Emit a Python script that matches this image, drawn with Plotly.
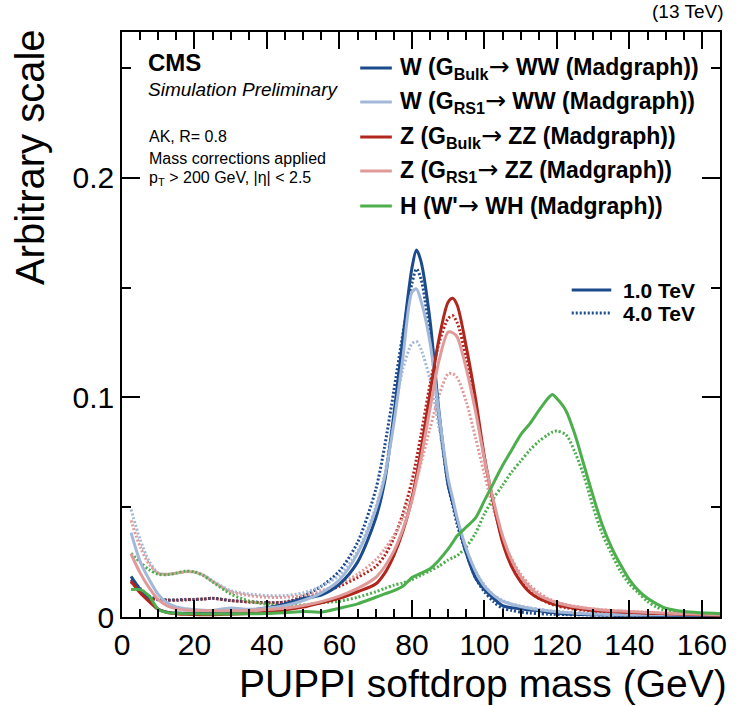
import plotly.graph_objects as go

# Softdrop mass grid (GeV)
mass = [2.5, 5, 7.5, 10, 12.5, 15, 17.5, 20, 22.5, 25, 30, 35, 40, 45, 50, 55,
        60, 65, 70, 72.5, 75, 77.5, 80, 81.25, 82.5, 85, 87.5, 90, 91.25, 92.5, 95, 97.5,
        100, 102.5, 105, 107.5, 110, 112.5, 115, 117.5, 118.75, 120, 122.5, 125,
        127.5, 130, 132.5, 135, 137.5, 140, 142.5, 145, 147.5, 150, 155, 160, 165]

# W from G_Bulk -> WW
w_bulk_1tev = [0.0185, 0.0125, 0.0080, 0.0035, 0.0022, 0.0018, 0.0017, 0.0016, 0.0016, 0.0018,
               0.0025, 0.0030, 0.0042, 0.0060, 0.0085, 0.0100, 0.0150, 0.0250, 0.0450, 0.0620,
               0.0920, 0.1270, 0.1590, 0.1672, 0.1620, 0.1350, 0.0930, 0.0600, 0.0520, 0.0440,
               0.0290, 0.0180,
               0.0125, 0.0085, 0.0052, 0.0042, 0.0037, 0.0032, 0.0028, 0.0022, 0.0020, 0.0018,
               0.0014, 0.0012, 0.0011, 0.0010, 0.0009, 0.0009, 0.0008, 0.0008, 0.0008, 0.0007,
               0.0007, 0.0007, 0.0006, 0.0006, 0.0006]
w_bulk_4tev = [0.0170, 0.0130, 0.0095, 0.0080, 0.0078, 0.0078, 0.0080, 0.0080, 0.0082, 0.0085,
               0.0075, 0.0070, 0.0065, 0.0068, 0.0095, 0.0140, 0.0210, 0.0340, 0.0580, 0.0780,
               0.1030, 0.1290, 0.1520, 0.1585, 0.1540, 0.1280, 0.0900, 0.0600, 0.0510, 0.0420,
               0.0290, 0.0180,
               0.0115, 0.0070, 0.0040, 0.0030, 0.0022, 0.0018, 0.0015, 0.0013, 0.0012, 0.0012,
               0.0011, 0.0010, 0.0010, 0.0009, 0.0009, 0.0009, 0.0008, 0.0008, 0.0008, 0.0008,
               0.0008, 0.0008, 0.0008, 0.0008, 0.0008]

# W from G_RS1 -> WW
w_rs1_1tev = [0.0384, 0.0253, 0.0171, 0.0103, 0.0064, 0.0046, 0.0038, 0.0034, 0.0031, 0.0030,
              0.0041, 0.0035, 0.0040, 0.0052, 0.0075, 0.0110, 0.0170, 0.0290, 0.0490, 0.0640,
              0.0880, 0.1180, 0.1480, 0.1495, 0.1440, 0.1250, 0.0920, 0.0630, 0.0540, 0.0450,
              0.0310, 0.0210,
              0.0140, 0.0100, 0.0072, 0.0058, 0.0048, 0.0040, 0.0034, 0.0028, 0.0026, 0.0024,
              0.0020, 0.0017, 0.0015, 0.0013, 0.0012, 0.0011, 0.0011, 0.0010, 0.0010, 0.0010,
              0.0010, 0.0010, 0.0010, 0.0010, 0.0010]
w_rs1_4tev = [0.0490, 0.0353, 0.0254, 0.0200, 0.0195, 0.0200, 0.0208, 0.0206, 0.0192, 0.0165,
              0.0120, 0.0105, 0.0098, 0.0098, 0.0110, 0.0140, 0.0190, 0.0300, 0.0500, 0.0650,
              0.0920, 0.1130, 0.1245, 0.1255, 0.1220, 0.1080, 0.0860, 0.0620, 0.0530, 0.0440,
              0.0310, 0.0210,
              0.0145, 0.0100, 0.0075, 0.0060, 0.0050, 0.0042, 0.0035, 0.0030, 0.0027, 0.0025,
              0.0022, 0.0020, 0.0018, 0.0016, 0.0015, 0.0014, 0.0013, 0.0013, 0.0012, 0.0012,
              0.0012, 0.0012, 0.0012, 0.0012, 0.0012]

# Z from G_Bulk -> ZZ
z_bulk_1tev = [0.0164, 0.0110, 0.0070, 0.0035, 0.0020, 0.0015, 0.0012, 0.0011, 0.0010, 0.0010,
               0.0013, 0.0016, 0.0022, 0.0032, 0.0045, 0.0065, 0.0085, 0.0115, 0.0150, 0.0200,
               0.0280, 0.0390, 0.0540, 0.0645, 0.0760, 0.1020, 0.1270, 0.1435, 0.1452, 0.1420,
               0.1230, 0.1000,
               0.0730, 0.0520, 0.0340, 0.0230, 0.0160, 0.0112, 0.0085, 0.0068, 0.0060, 0.0055,
               0.0047, 0.0040, 0.0035, 0.0030, 0.0027, 0.0025, 0.0023, 0.0021, 0.0019, 0.0017,
               0.0016, 0.0015, 0.0012, 0.0010, 0.0008]
z_bulk_4tev = [0.0160, 0.0120, 0.0090, 0.0078, 0.0076, 0.0076, 0.0078, 0.0080, 0.0082, 0.0085,
               0.0075, 0.0068, 0.0065, 0.0068, 0.0085, 0.0110, 0.0140, 0.0180, 0.0230, 0.0280,
               0.0360, 0.0470, 0.0620, 0.0720, 0.0830, 0.1060, 0.1250, 0.1360, 0.1372, 0.1340,
               0.1180, 0.0960,
               0.0720, 0.0520, 0.0350, 0.0240, 0.0165, 0.0115, 0.0085, 0.0065, 0.0057, 0.0050,
               0.0042, 0.0036, 0.0031, 0.0027, 0.0024, 0.0022, 0.0020, 0.0018, 0.0016, 0.0015,
               0.0014, 0.0013, 0.0011, 0.0009, 0.0008]

# Z from G_RS1 -> ZZ
z_rs1_1tev = [0.0287, 0.0201, 0.0133, 0.0080, 0.0050, 0.0037, 0.0032, 0.0030, 0.0029, 0.0028,
              0.0028, 0.0030, 0.0034, 0.0040, 0.0052, 0.0070, 0.0095, 0.0130, 0.0180, 0.0230,
              0.0300, 0.0400, 0.0530, 0.0620, 0.0720, 0.0950, 0.1170, 0.1298, 0.1295, 0.1275,
              0.1130, 0.0940,
              0.0720, 0.0530, 0.0370, 0.0260, 0.0185, 0.0135, 0.0100, 0.0080, 0.0072, 0.0065,
              0.0055, 0.0047, 0.0041, 0.0036, 0.0032, 0.0029, 0.0027, 0.0025, 0.0023, 0.0021,
              0.0019, 0.0018, 0.0015, 0.0012, 0.0010]
z_rs1_4tev = [0.0440, 0.0320, 0.0240, 0.0200, 0.0195, 0.0200, 0.0206, 0.0204, 0.0190, 0.0162,
              0.0115, 0.0098, 0.0090, 0.0090, 0.0098, 0.0120, 0.0150, 0.0195, 0.0260, 0.0310,
              0.0370, 0.0450, 0.0560, 0.0625, 0.0700, 0.0860, 0.1010, 0.1108, 0.1108, 0.1090,
              0.0980, 0.0820,
              0.0650, 0.0490, 0.0360, 0.0265, 0.0195, 0.0145, 0.0110, 0.0085, 0.0076, 0.0068,
              0.0057, 0.0049, 0.0042, 0.0037, 0.0033, 0.0030, 0.0027, 0.0025, 0.0023, 0.0021,
              0.0019, 0.0018, 0.0015, 0.0013, 0.0012]

# H from W' -> WH
h_1tev = [0.0125, 0.0125, 0.0095, 0.0035, 0.0020, 0.0017, 0.0015, 0.0015, 0.0014, 0.0014,
          0.0014, 0.0015, 0.0016, 0.0020, 0.0025, 0.0022, 0.0040, 0.0060, 0.0090, 0.0105,
          0.0120, 0.0140, 0.0180, 0.0190, 0.0200, 0.0220, 0.0260, 0.0310, 0.0340, 0.0370,
          0.0410, 0.0450,
          0.0530, 0.0610, 0.0690, 0.0760, 0.0830, 0.0880, 0.0940, 0.0995, 0.1014, 0.0995,
          0.0940, 0.0830, 0.0690, 0.0550, 0.0420, 0.0320, 0.0240, 0.0170, 0.0120, 0.0085,
          0.0060, 0.0040, 0.0025, 0.0019, 0.0015]
h_4tev = [0.0290, 0.0250, 0.0215, 0.0195, 0.0193, 0.0200, 0.0208, 0.0205, 0.0188, 0.0160,
          0.0105, 0.0073, 0.0058, 0.0050, 0.0055, 0.0065, 0.0072, 0.0090, 0.0115, 0.0130,
          0.0145, 0.0155, 0.0170, 0.0180, 0.0190, 0.0210, 0.0232, 0.0260, 0.0270, 0.0280,
          0.0320, 0.0380,
          0.0470, 0.0540, 0.0600, 0.0660, 0.0710, 0.0760, 0.0800, 0.0830, 0.0842, 0.0847,
          0.0830, 0.0750, 0.0640, 0.0500, 0.0380, 0.0290, 0.0210, 0.0150, 0.0110, 0.0070,
          0.0045, 0.0030, 0.0020, 0.0015, 0.0012]

ARROW = "<span style=\"font-family:DejaVu Sans;font-weight:normal;font-size:25px\">→</span>"
legend_labels = [
    "W (G<sub>Bulk</sub>" + ARROW + " WW (Madgraph))",
    "W (G<sub>RS1</sub>" + ARROW + " WW (Madgraph))",
    "Z (G<sub>Bulk</sub>" + ARROW + " ZZ (Madgraph))",
    "Z (G<sub>RS1</sub>" + ARROW + " ZZ (Madgraph))",
    "H (W'" + ARROW + " WH (Madgraph))",
]
process_names = ["W Bulk", "W RS1", "Z Bulk", "Z RS1", "H"]
colors = ["#1b4b8c", "#a2b8d8", "#b0261d", "#e09a9a", "#4cae4c"]
mass_points = ["1.0 TeV", "4.0 TeV"]

series_1tev = [w_bulk_1tev, w_rs1_1tev, z_bulk_1tev, z_rs1_1tev, h_1tev]
series_4tev = [w_bulk_4tev, w_rs1_4tev, z_bulk_4tev, z_rs1_4tev, h_4tev]

FONT = "Liberation Sans, Arial, Helvetica, sans-serif"
DOT = "2px,2px"

fig = go.Figure()
for vals, col, nm in zip(series_4tev, colors, process_names):
    fig.add_trace(go.Scatter(x=mass, y=vals, mode="lines", name=nm + " 4.0 TeV",
                             line=dict(color=col, width=3, dash=DOT, shape="spline", smoothing=0.8),
                             showlegend=False))
for vals, col, nm in zip(series_1tev, colors, process_names):
    fig.add_trace(go.Scatter(x=mass, y=vals, mode="lines", name=nm + " 1.0 TeV",
                             line=dict(color=col, width=3, shape="spline", smoothing=0.8),
                             showlegend=False))

# plot frame in pixels -> paper coordinates
L, R, T, B = 122, 727, 32, 617
def px(xp):
    return (xp - L) / (R - L)
def py(yp):
    return (B - yp) / (B - T)

ann = []
shapes = []

# Process legend (top right)
rows = [68, 102, 137, 171, 206]
for lab, col, yr in zip(legend_labels, colors, rows):
    shapes.append(dict(type="line", xref="paper", yref="paper", x0=px(363), x1=px(395),
                       y0=py(yr), y1=py(yr), line=dict(color=col, width=3)))
    ann.append(dict(text="<b>" + lab + "</b>", x=px(401), y=py(yr), xref="paper", yref="paper",
                    xanchor="left", yanchor="middle", showarrow=False, yshift=1,
                    font=dict(family=FONT, size=23, color="black")))

# Resonance mass legend
for lab, yr, dash in zip(mass_points, [290, 313], ["solid", DOT]):
    shapes.append(dict(type="line", xref="paper", yref="paper", x0=px(577), x1=px(617),
                       y0=py(yr), y1=py(yr), line=dict(color=colors[0], width=3, dash=dash)))
    ann.append(dict(text="<b>" + lab + "</b>", x=px(628), y=py(yr), xref="paper", yref="paper",
                    xanchor="left", yanchor="middle", showarrow=False, borderpad=0,
                    font=dict(family=FONT, size=21, color="black")))

# CMS label and selection text
ann += [
    dict(text="<b>CMS</b>", x=px(146), y=py(62), font=dict(family=FONT, size=24, color="black")),
    dict(text="<i>Simulation Preliminary</i>", x=px(146), y=py(90),
         font=dict(family=FONT, size=19, color="black")),
    dict(text="AK, R= 0.8", x=px(147), y=py(136), font=dict(family=FONT, size=16, color="black")),
    dict(text="Mass corrections applied", x=px(147), y=py(158),
         font=dict(family=FONT, size=16, color="black")),
    dict(text="p<sub>T</sub> > 200 GeV, |η| < 2.5", x=px(147), y=py(178),
         font=dict(family=FONT, size=16, color="black")),
]
for a in ann[-5:]:
    a.update(xref="paper", yref="paper", xanchor="left", yanchor="middle", showarrow=False)

# Energy label and axis titles
ann += [
    dict(text="(13 TeV)", x=px(732), y=py(12), xref="paper", yref="paper", xanchor="right",
         yanchor="middle", showarrow=False, font=dict(family=FONT, size=19, color="black")),
    dict(text="PUPPI softdrop mass (GeV)", x=px(735), y=py(683), xref="paper", yref="paper",
         xanchor="right", yanchor="middle", showarrow=False, borderpad=0,
         font=dict(family=FONT, size=39, color="black")),
    dict(text="Arbitrary scale", x=px(29), y=py(27), xref="paper", yref="paper", textangle=-90,
         xanchor="center", yanchor="top", showarrow=False,
         font=dict(family=FONT, size=40, color="black")),
]

axis_common = dict(showline=True, linecolor="black", linewidth=1.5, mirror="ticks",
                   ticks="inside", tickcolor="black", tickwidth=1.5, showgrid=False,
                   zeroline=False, tickfont=dict(family=FONT, size=30, color="black"))

fig.update_layout(
    width=736, height=706,
    margin=dict(l=L, r=736 - R, t=T, b=706 - B),
    paper_bgcolor="white", plot_bgcolor="white",
    font=dict(family=FONT, color="black"),
    showlegend=False,
    xaxis=dict(range=[0, 165], dtick=20, tick0=0, ticklen=17,
               minor=dict(dtick=5, ticklen=8, ticks="inside", tickcolor="black", tickwidth=1.5),
               **axis_common),
    yaxis=dict(range=[0, 0.2665], dtick=0.1, tick0=0, ticklen=18,
               minor=dict(dtick=0.05, ticklen=9, ticks="inside", tickcolor="black", tickwidth=1.5),
               **axis_common),
    annotations=ann,
    shapes=shapes,
)

fig.write_html("out.html")
